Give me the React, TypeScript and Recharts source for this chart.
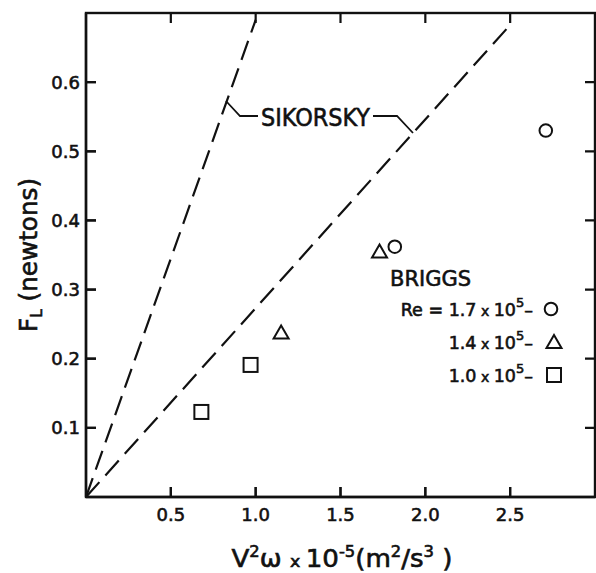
import React from 'react';
import { ScatterChart, Scatter, XAxis, YAxis } from 'recharts';

const xTicks = [0.5, 1.0, 1.5, 2.0, 2.5];
const yTicks = [0.1, 0.2, 0.3, 0.4, 0.5, 0.6];
const xDomain = [0, 3];
const yDomain = [0, 0.7];

const sikorskyUpper = [
  { x: 0, y: 0 },
  { x: 1.0, y: 0.69 },
];
const sikorskyLower = [
  { x: 0, y: 0 },
  { x: 2.49, y: 0.68 },
];
const briggsRe17 = [
  { x: 1.82, y: 0.362 },
  { x: 2.71, y: 0.53 },
];
const briggsRe14 = [
  { x: 1.15, y: 0.238 },
  { x: 1.73, y: 0.355 },
];
const briggsRe10 = [
  { x: 0.68, y: 0.123 },
  { x: 0.97, y: 0.191 },
];

// layout
const W = 596;
const H = 573;
const M_TOP = 13;
const M_RIGHT = 1;
const Y_AXIS_W = 86;
const X_AXIS_H = 76;
const PLOT_W = W - M_RIGHT - Y_AXIS_W;
const PLOT_H = H - M_TOP - X_AXIS_H;
const TICK = 10;

const FONT = '"DejaVu Sans", "Liberation Sans", sans-serif';
const INK = '#111';

const fmt = (v: number) => v.toFixed(1);

// pixel mapping of the plot frame (same linear mapping as the chart axes), used for frame ticks
const px = (v: number) => Y_AXIS_W + ((v - xDomain[0]) / (xDomain[1] - xDomain[0])) * PLOT_W;
const py = (v: number) => M_TOP + PLOT_H - ((v - yDomain[0]) / (yDomain[1] - yDomain[0])) * PLOT_H;
const frameTicksPath = [
  ...xTicks.map(
    (t) =>
      `M${px(t)},${M_TOP + PLOT_H} V${M_TOP + PLOT_H - TICK} M${px(t)},${M_TOP} V${M_TOP + TICK}`
  ),
  ...yTicks.map(
    (t) =>
      `M${Y_AXIS_W},${py(t)} H${Y_AXIS_W + TICK} M${Y_AXIS_W + PLOT_W},${py(t)} H${Y_AXIS_W + PLOT_W - TICK}`
  ),
].join(' ');

const CircleMark = (p: any) => (
  <circle cx={p.cx} cy={p.cy} r={6.3} fill="none" stroke={INK} strokeWidth={2} />
);
const TriangleMark = (p: any) => {
  const { cx, cy } = p;
  return (
    <path
      d={`M${cx - 7.5},${cy + 6} L${cx + 7.5},${cy + 6} L${cx},${cy - 7} Z`}
      fill="none"
      stroke={INK}
      strokeWidth={2}
      strokeLinejoin="miter"
    />
  );
};
const SquareMark = (p: any) => (
  <rect x={p.cx - 7} y={p.cy - 7} width={14} height={14} fill="none" stroke={INK} strokeWidth={2} />
);
const NoMark = () => <g />;

const txt = { fontFamily: FONT, fill: INK, stroke: INK, strokeWidth: 0.6 } as const;

const BottomTick = (p: any) => (
  <g>
    <line x1={p.x} x2={p.x} y1={p.y} y2={p.y - TICK} stroke={INK} strokeWidth={2.2} />
    <text x={p.x} y={p.y + 24} textAnchor="middle" fontSize={18} {...txt}>
      {fmt(p.payload.value)}
    </text>
  </g>
);
const LeftTick = (p: any) => (
  <g>
    <line x1={p.x} x2={p.x + TICK} y1={p.y} y2={p.y} stroke={INK} strokeWidth={2.2} />
    <text x={p.x - 6} y={p.y + 6.5} textAnchor="end" fontSize={18} {...txt}>
      {fmt(p.payload.value)}
    </text>
  </g>
);

const axisLine = { stroke: INK, strokeWidth: 2.4 };
const dashLine = { stroke: INK, strokeWidth: 2.2, strokeDasharray: '20 9' };

export default function App() {
  return (
    <div style={{ position: 'absolute', left: 0, top: 0, width: W, height: H, background: '#fff' }}>
      <ScatterChart width={W} height={H} margin={{ top: M_TOP, right: M_RIGHT, bottom: 0, left: 0 }}>
        <XAxis
          dataKey="x"
          type="number"
          domain={xDomain}
          ticks={xTicks}
          orientation="bottom"
          height={X_AXIS_H}
          tickSize={0}
          tickMargin={0}
          tickLine={false}
          axisLine={axisLine}
          tick={<BottomTick />}
          allowDataOverflow
          interval={0}
        />
        <YAxis
          dataKey="y"
          type="number"
          domain={yDomain}
          ticks={yTicks}
          orientation="left"
          width={Y_AXIS_W}
          tickSize={0}
          tickMargin={0}
          tickLine={false}
          axisLine={axisLine}
          tick={<LeftTick />}
          allowDataOverflow
          interval={0}
        />
        <Scatter data={sikorskyUpper} line={dashLine} shape={NoMark} isAnimationActive={false} />
        <Scatter data={sikorskyLower} line={dashLine} shape={NoMark} isAnimationActive={false} />
        <Scatter data={briggsRe17} shape={CircleMark} isAnimationActive={false} />
        <Scatter data={briggsRe14} shape={TriangleMark} isAnimationActive={false} />
        <Scatter data={briggsRe10} shape={SquareMark} isAnimationActive={false} />
      </ScatterChart>
      <svg width={W} height={H} style={{ position: 'absolute', left: 0, top: 0, pointerEvents: 'none' }}>
        {/* full frame of the plot area with inward ticks on all four sides */}
        <rect x={Y_AXIS_W} y={M_TOP} width={PLOT_W} height={PLOT_H} fill="none" stroke={INK} strokeWidth={2.4} />
        <path d={frameTicksPath} fill="none" stroke={INK} strokeWidth={2.2} />
        {/* Y axis title */}
        <text transform="rotate(-90)" x={-255} y={37} textAnchor="middle" fontSize={24} {...txt} textLength={154} lengthAdjust="spacingAndGlyphs">
          F<tspan fontSize={15} dy={5}>L</tspan>
          <tspan dy={-5}> (newtons)</tspan>
        </text>
        {/* X axis title */}
        <text x={342} y={567} textAnchor="middle" fontSize={24} {...txt} textLength={221} lengthAdjust="spacingAndGlyphs">
          V<tspan fontSize={15} dy={-10}>2</tspan>
          <tspan dy={10}>ω </tspan>
          <tspan fontSize={16}>x </tspan>
          <tspan>10</tspan>
          <tspan fontSize={15} dy={-10}>-5</tspan>
          <tspan dy={10}>(m</tspan>
          <tspan fontSize={15} dy={-10}>2</tspan>
          <tspan dy={10}>/s</tspan>
          <tspan fontSize={15} dy={-10}>3</tspan>
          <tspan dy={10}> )</tspan>
        </text>
        {/* SIKORSKY label with leaders */}
        <text x={261} y={126} fontSize={24} {...txt} textLength={109} lengthAdjust="spacingAndGlyphs">SIKORSKY</text>
        <polyline points="226,101 240,116 258,116" fill="none" stroke={INK} strokeWidth={1.8} />
        <polyline points="373,116 397,116 413,133" fill="none" stroke={INK} strokeWidth={1.8} />
        {/* BRIGGS legend */}
        <text x={390} y={286} fontSize={21} {...txt} textLength={81} lengthAdjust="spacingAndGlyphs">BRIGGS</text>
        <text x={533} y={316} textAnchor="end" fontSize={17.5} {...txt}>
          Re = 1.7<tspan fontSize={14}> x </tspan>10<tspan fontSize={13} dy={-9}>5</tspan>
          <tspan dy={9}>–</tspan>
        </text>
        <CircleMark cx={551} cy={309} />
        <text x={533} y={349} textAnchor="end" fontSize={17.5} {...txt}>
          1.4<tspan fontSize={14}> x </tspan>10<tspan fontSize={13} dy={-9}>5</tspan>
          <tspan dy={9}>–</tspan>
        </text>
        <TriangleMark cx={554} cy={342} />
        <text x={533} y={382} textAnchor="end" fontSize={17.5} {...txt}>
          1.0<tspan fontSize={14}> x </tspan>10<tspan fontSize={13} dy={-9}>5</tspan>
          <tspan dy={9}>–</tspan>
        </text>
        <SquareMark cx={554} cy={375} />
      </svg>
    </div>
  );
}
